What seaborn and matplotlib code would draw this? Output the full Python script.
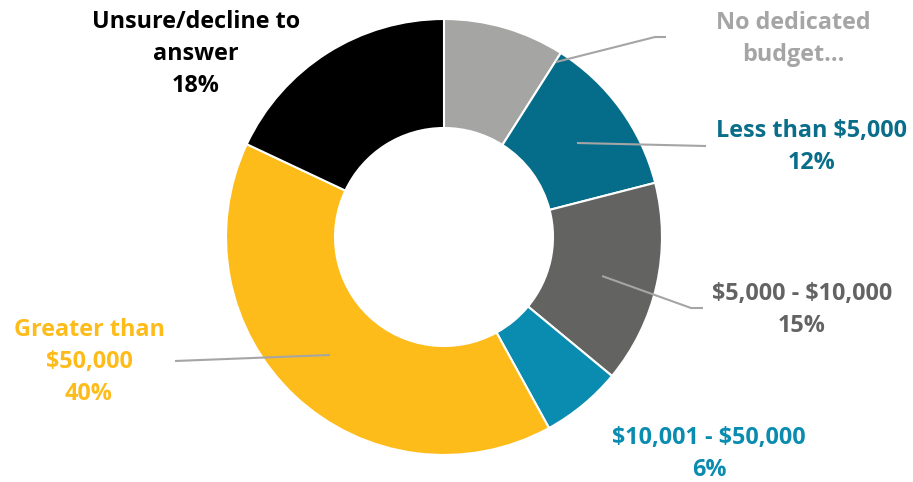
import matplotlib
matplotlib.use("Agg")
import matplotlib.pyplot as plt
import seaborn as sns

# ---- data ----
categories = ["No dedicated\nbudget...", "Less than $5,000", "$5,000 - $10,000",
              "$10,001 - $50,000", "Greater than\n$50,000", "Unsure/decline to\nanswer"]
values = [9, 12, 15, 6, 40, 18]
pct_labels = ["", "12%", "15%", "6%", "40%", "18%"]
colors = ["#A5A5A4", "#056D8A", "#636362", "#0A8BB0", "#FDBC1A", "#000000"]
label_colors = ["#A5A5A5", "#0A6E8A", "#636363", "#0A8BB0", "#FDBC1A", "#000000"]

sns.set_theme(style="white")
plt.rcParams['font.family'] = ['Open Sans', 'DejaVu Sans']
plt.rcParams['text.parse_math'] = False

W, H = 913, 482
fig = plt.figure(figsize=(W / 100, H / 100), dpi=100)
ax = fig.add_axes([0, 0, 1, 1])

cx, cy, r = 444, H - 237, 218
ax.pie(values, colors=colors, startangle=90, counterclock=False,
       center=(cx, cy), radius=r, frame=True,
       wedgeprops=dict(width=r * 0.5, edgecolor="white", linewidth=1.5))
ax.set_xlim(0, W)
ax.set_ylim(0, H)
ax.axis("off")
ax.set_aspect("equal")

# label layout (pixel coordinates, y from top)
text_pos = [(793, 39), (812, 147), (802, 310), (709, 454), (89, 362), (196, 54)]
leaders = [
    [(556, 62), (655, 37), (666, 37)],
    [(577, 143), (706, 146)],
    [(602, 276), (691, 308), (703, 308)],
    None,
    [(330, 355), (175, 361)],
    None,
]

for i, cat in enumerate(categories):
    txt = cat if pct_labels[i] == "" else cat + "\n" + pct_labels[i]
    x, y = text_pos[i]
    ax.text(x, H - y, txt, ha="center", va="center", fontsize=16.8,
            fontweight="bold", color=label_colors[i], linespacing=1.42,
            multialignment="center")
    if leaders[i]:
        xs = [p[0] for p in leaders[i]]
        ys = [H - p[1] for p in leaders[i]]
        ax.plot(xs, ys, color="#A5A5A5", lw=1.5, solid_capstyle="butt")

fig.savefig("out.png", dpi=100)
